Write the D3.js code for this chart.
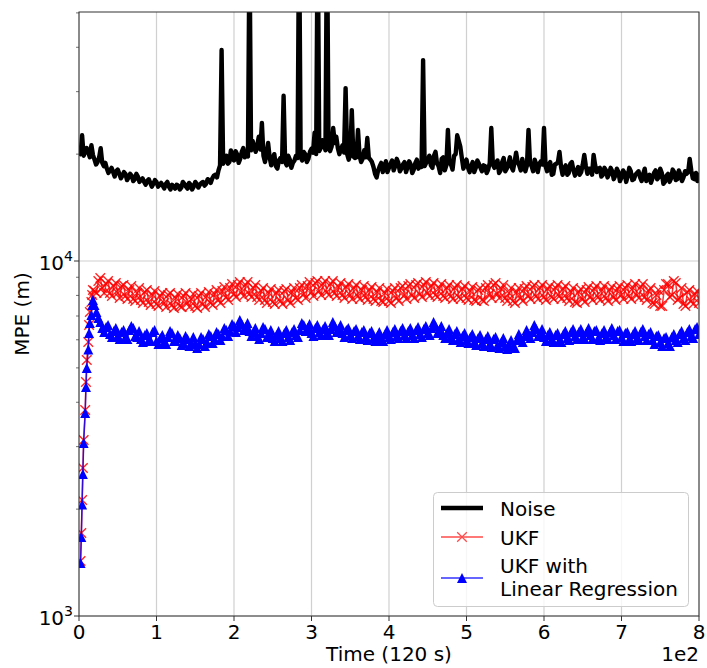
<!DOCTYPE html>
<html><head><meta charset="utf-8">
<script src="https://cdn.jsdelivr.net/npm/d3@7"></script>
<style>body{margin:0;background:#fff} text{font-family:"DejaVu Sans",sans-serif;fill:#000}</style>
</head><body><svg id="c" width="707" height="668"></svg>
<script>
// ---- data ----
// Noise: values at t = 0,4,8,...,800 and in-between samples at t = 2,6,10,...,798
const noiseValues = [
20500,22600,20300,20200,21200,19300,19000,20800,18500,18200,
18000,17800,17900,17600,17400,17600,17200,17400,17000,17300,
16900,16700,16800,16600,16500,16700,16400,16300,16500,16200,
16400,16000,16300,16100,16500,16000,16400,16200,16500,16400,
16700,16500,16900,17100,17500,18000,39300,19500,18800,20500,
19200,20000,19400,20800,20200,80000,21800,20300,22400,24500,
19000,21500,18600,20000,18200,19500,29200,18600,19300,18900,
19800,90000,19200,20000,19400,20700,23000,90000,20800,21500,
90000,20400,23700,22400,20000,21200,30700,19300,26600,19500,
23400,19000,20500,22200,19300,18400,17200,18500,17800,19100,
18300,19200,18500,18900,18200,19000,18400,18700,18100,19300,
18600,36800,18900,19800,18300,20300,18500,19400,18000,23400,
18700,19800,22600,21000,18200,19300,17800,19000,18300,18800,
17900,18500,18100,23700,18300,19200,18000,19500,18200,19600,
18000,20200,18600,19400,17900,23400,18500,19300,17800,19100,
23700,17900,19000,17600,18800,20300,17500,18600,17700,19000,
17400,18400,17800,19900,17600,18200,19900,17800,18300,17500,
18000,17600,17900,17400,17800,17200,17700,17300,17900,17000,
17700,17200,17600,16800,17500,17100,18000,17200,17700,16700,
17600,17100,17800,17000,17500,17200,17600,19400,17100,17700,
17500];
const noiseMidValues = [
20000,19800,20800,19600,19900,18700,19600,18900,18900,17700,
18300,17300,18100,17100,17800,16900,17600,16800,17600,16700,
17100,16400,17000,16200,16900,16200,16600,16000,16700,15900,
16200,16400,15900,16700,16200,16600,15900,16700,16100,16600,
16300,17000,16600,17400,17200,18600,18800,19800,19000,19400,
20400,18900,20300,19600,19700,20500,20900,21200,20600,19800,
20000,19600,19500,18500,19200,19000,19000,19800,18300,19200,
19500,19600,20300,19000,20300,20200,20000,20400,21900,20500,
20800,21000,21500,20800,20600,20200,20000,20000,19700,19600,
19800,19400,19600,19500,19000,17600,18000,18900,18300,17800,
18800,18000,19400,17900,18700,17800,19100,17700,18900,18200,
18400,18500,19200,18600,19800,18800,17700,19600,18600,18900,
18100,20000,21800,19500,18900,18300,18500,17800,19200,18300,
18600,17700,18900,18700,18900,17700,19000,17900,18800,18400,
19000,19000,18000,18400,18600,18800,17900,18700,18800,18700,
18500,18700,17500,18700,19000,18400,18300,17500,18800,18000,
17900,17500,18700,18500,18200,17500,18600,18200,17300,18300,
17200,18300,17000,18200,16800,18000,16700,18300,16900,17500,
17900,16800,18200,17300,16600,17700,17000,18200,16500,17400,
16700,18100,16900,18000,16800,17900,17800,18000,17000,16800];

// Filters: early times, then t = 20,25,...,800, plus in-between samples at t = 22.5,27.5,...,797.5
const earlyTimes = [2,3,4,5,6,8,9,10,12,13,14,16,17,18];
const ukfEarly = [1429,1713,2122,2612,3131,3804,4562,5262,5915,6603,7183,7666,8023,8286];
const lrEarly  = [1410,1670,2060,2510,3070,3730,4420,5000,5630,6270,6690,7050,7520,7760];
const ukfValues = [
8230,8786,8391,8614,8125,8502,8125,8502,7968,8284,
7815,8125,7764,8177,7664,8020,7566,7968,7615,8020,
7517,7866,7467,7968,7615,7815,7467,7968,7566,7968,
7615,8072,7764,8230,7917,8391,8072,8557,8177,8557,
8072,8391,7917,8230,7764,8125,7664,8125,7714,8230,
7764,8177,7866,8391,8072,8502,8177,8670,8230,8614,
8177,8614,8125,8447,8020,8447,8020,8391,7968,8284,
7917,8284,7815,8177,7714,8125,7714,8230,7866,8391,
8020,8502,8020,8557,8072,8557,8125,8502,8020,8391,
7968,8391,7968,8391,7917,8337,7866,8230,7764,8284,
7764,8391,8072,8557,8072,8337,7866,8125,7714,8177,
7866,8337,7968,8447,7968,8391,7917,8337,7917,8391,
7968,8337,7866,8177,7664,8177,7815,8284,7917,8337,
7917,8284,7866,8284,7917,8337,8020,8391,7968,8391,
8020,8447,7917,8230,7615,8020,7467,8284,8614,8020,
8670,7866,7566,8177,7714,8072,7615];
const ukfMidValues = [
8125,8959,8125,8786,7968,8670,7866,8557,7815,8502,
7714,8391,7615,8284,7517,8230,7467,8125,7418,8125,
7370,8072,7418,8125,7418,8072,7370,8125,7418,8177,
7517,8284,7615,8447,7764,8614,7917,8727,7968,8727,
7917,8557,7764,8391,7615,8337,7566,8284,7566,8337,
7615,8391,7764,8557,7866,8727,7968,8786,8020,8786,
8020,8786,7968,8670,7866,8614,7815,8557,7815,8502,
7764,8447,7714,8391,7664,8337,7615,8391,7714,8502,
7815,8614,7866,8670,7917,8727,7968,8670,7917,8614,
7866,8557,7815,8557,7815,8502,7764,8447,7714,8391,
7714,8557,7866,8670,7866,8557,7714,8391,7615,8391,
7714,8502,7815,8557,7815,8557,7764,8502,7815,8557,
7815,8502,7714,8391,7615,8337,7664,8447,7764,8502,
7764,8502,7714,8447,7764,8502,7815,8557,7815,8614,
7866,8614,7764,8391,7566,8284,7467,8614,7917,8786,
7764,8391,7467,8284,7566,8230];
const lrValues = [
7517,6910,6476,6518,6229,6351,6148,6310,6109,6392,
6476,6109,6031,6188,5992,6310,5953,6070,5915,6109,
6269,5953,6070,5877,6031,5839,5877,5839,6031,5915,
6148,6031,6229,6148,6392,6351,6560,6518,6647,6518,
6351,6310,6148,6269,6434,6229,6070,6188,6070,6269,
6109,6310,6188,6392,6603,6476,6269,6476,6310,6434,
6269,6434,6560,6434,6269,6392,6188,6351,6148,6310,
6109,6269,6070,6148,6031,6229,6109,6310,6148,6351,
6188,6351,6188,6392,6229,6434,6269,6476,6560,6392,
6188,6269,6109,6229,6031,6148,5992,6109,5915,6070,
5877,6031,5839,6031,5801,5915,5764,5801,5726,5992,
6070,6148,6229,6310,6434,6269,6109,6188,6031,6188,
5992,6229,6070,6310,6148,6310,6109,6310,6188,6351,
6070,6269,6109,6310,6188,6351,6109,6269,6031,6229,
6070,6310,6148,6229,5992,6148,5915,6070,5877,6109,
5992,6229,6070,6310,6148,6434,6229];
const lrMidValues = [
7183,6734,6310,6603,6109,6476,6031,6392,6031,6560,
6148,6351,5915,6269,5953,6392,5839,6188,5839,6351,
5953,6188,5801,6148,5764,6109,5689,6109,5764,6229,
5877,6310,5992,6476,6148,6647,6310,6822,6392,6690,
6148,6476,6031,6518,6109,6392,5953,6351,5953,6392,
5992,6434,6109,6690,6351,6647,6148,6603,6188,6560,
6188,6734,6310,6603,6109,6476,6070,6434,6031,6392,
5992,6351,5953,6310,5953,6392,6031,6434,6070,6476,
6070,6476,6070,6518,6109,6560,6188,6734,6269,6560,
6070,6434,5992,6351,5915,6269,5877,6229,5801,6188,
5764,6148,5726,6109,5689,6070,5652,5992,5689,6229,
5915,6392,6070,6603,6148,6434,5953,6310,5915,6269,
5915,6351,5992,6434,6031,6434,6031,6476,6031,6392,
5992,6392,6031,6476,6031,6392,5953,6310,5953,6351,
5992,6434,5992,6310,5839,6188,5764,6109,5764,6229,
5915,6351,5992,6434,6070,6518];

const xTicks = [0,100,200,300,400,500,600,700,800];
const xTickLabels = ["0","1","2","3","4","5","6","7","8"];
const xOffsetLabel = "1e2";
const yMajor = [1000, 10000];
const yMajorExp = ["3", "4"];
const yMinor = [2000,3000,4000,5000,6000,7000,8000,9000,20000,30000,40000,50000];
const seriesNames = ["Noise", "UKF", ["UKF with", "Linear Regression"]];
const xLabel = "Time (120 s)", yLabel = "MPE (m)";

// ---- build ----
const byT = (a, b) => a[0] - b[0];
const noise = noiseValues.map((v, i) => [i * 4, v])
  .concat(noiseMidValues.map((v, i) => [2 + i * 4, v])).sort(byT);
const mainTimes = d3.range(20, 801, 5);
const midTimes = d3.range(22.5, 800, 5);
const ukf = earlyTimes.map((t, i) => [t, ukfEarly[i]])
  .concat(mainTimes.map((t, i) => [t, ukfValues[i]]), midTimes.map((t, i) => [t, ukfMidValues[i]])).sort(byT);
const lr = earlyTimes.map((t, i) => [t, lrEarly[i]])
  .concat(mainTimes.map((t, i) => [t, lrValues[i]]), midTimes.map((t, i) => [t, lrMidValues[i]])).sort(byT);

const L = 79, R = 699, T = 12, B = 616;
const svg = d3.select("#c");
const x = d3.scaleLinear().domain([0, 800]).range([L, R]);
const y = d3.scaleLog().domain([1000, 50290]).range([B, T]);

svg.append("defs").append("clipPath").attr("id", "clip")
  .append("rect").attr("x", L).attr("y", T).attr("width", R - L).attr("height", B - T);

// grid
const grid = svg.append("g").attr("stroke", "#b0b0b0").attr("stroke-opacity", 0.6).attr("stroke-width", 1.2);
xTicks.forEach(t => grid.append("line").attr("x1", x(t)).attr("x2", x(t)).attr("y1", T).attr("y2", B));
yMajor.forEach(v => grid.append("line").attr("x1", L).attr("x2", R).attr("y1", y(v)).attr("y2", y(v)));

const plot = svg.append("g").attr("clip-path", "url(#clip)");
const line = d3.line().x(d => x(d[0])).y(d => y(d[1]));

plot.append("path").datum(noise).attr("d", line).attr("fill", "none")
  .attr("stroke", "#000").attr("stroke-width", 4.4).attr("stroke-linejoin", "round").attr("stroke-linecap", "round");

const xMark = "M-4.8,-4.8L4.8,4.8M-4.8,4.8L4.8,-4.8";
const triMark = "M0,-5L-5,5L5,5Z";

const gU = plot.append("g");
gU.append("path").datum(ukf).attr("d", line).attr("fill", "none").attr("stroke", "#ff0000").attr("stroke-opacity", 0.8).attr("stroke-width", 1.5);
gU.selectAll("path.m").data(ukf).join("path").attr("class", "m")
  .attr("transform", d => `translate(${x(d[0])},${y(d[1])})`).attr("d", xMark)
  .attr("stroke", "#ff0000").attr("stroke-opacity", 0.85).attr("stroke-width", 1.4).attr("fill", "none");

const gL = plot.append("g");
gL.append("path").datum(lr).attr("d", line).attr("fill", "none").attr("stroke", "#0000ff").attr("stroke-width", 1.5).attr("stroke-opacity", 0.8);
gL.selectAll("path.m").data(lr).join("path").attr("class", "m")
  .attr("transform", d => `translate(${x(d[0])},${y(d[1])})`).attr("d", triMark)
  .attr("fill", "#0000ff");

// spines
svg.append("rect").attr("x", L).attr("y", T).attr("width", R - L).attr("height", B - T)
  .attr("fill", "none").attr("stroke", "#333").attr("stroke-width", 1);

// x ticks
const ax = svg.append("g");
xTicks.forEach((t, i) => {
  ax.append("line").attr("x1", x(t)).attr("x2", x(t)).attr("y1", B).attr("y2", B + 5).attr("stroke", "#333");
  ax.append("text").attr("x", x(t)).attr("y", 639).attr("text-anchor", "middle").attr("font-size", 20).text(xTickLabels[i]);
});
ax.append("text").attr("x", R).attr("y", 661).attr("text-anchor", "end").attr("font-size", 20).text(xOffsetLabel);
ax.append("text").attr("x", (L + R) / 2).attr("y", 661).attr("text-anchor", "middle").attr("font-size", 20).text(xLabel);

// y ticks
yMajor.forEach((v, i) => {
  ax.append("line").attr("x1", L - 5).attr("x2", L).attr("y1", y(v)).attr("y2", y(v)).attr("stroke", "#333");
  const tx = ax.append("text").attr("x", 73).attr("y", y(v) + 9).attr("text-anchor", "end").attr("font-size", 20);
  tx.append("tspan").text("10");
  tx.append("tspan").attr("dy", -9).attr("font-size", 14).text(yMajorExp[i]);
});
yMinor.forEach(v => {
  ax.append("line").attr("x1", L - 3).attr("x2", L).attr("y1", y(v)).attr("y2", y(v)).attr("stroke", "#333").attr("stroke-width", 0.7);
});
ax.append("text").attr("transform", `translate(29,${(T + B) / 2}) rotate(-90)`).attr("text-anchor", "middle")
  .attr("font-size", 20).text(yLabel);

// legend
const lg = svg.append("g");
lg.append("rect").attr("x", 433.5).attr("y", 492.5).attr("width", 255).attr("height", 114).attr("rx", 4)
  .attr("fill", "#fff").attr("fill-opacity", 0.8).attr("stroke", "#cccccc");
lg.append("line").attr("x1", 441).attr("x2", 483).attr("y1", 508).attr("y2", 508).attr("stroke", "#000").attr("stroke-width", 4.4);
lg.append("text").attr("x", 500).attr("y", 516).attr("font-size", 20).text(seriesNames[0]);
const lu = lg.append("g").attr("opacity", 0.7);
lu.append("line").attr("x1", 441).attr("x2", 483).attr("y1", 537).attr("y2", 537).attr("stroke", "#ff0000").attr("stroke-width", 1.5);
lu.append("path").attr("transform", "translate(462,537)").attr("d", xMark).attr("stroke", "#ff0000").attr("stroke-width", 1.3);
lg.append("text").attr("x", 500).attr("y", 545).attr("font-size", 20).text(seriesNames[1]);
lg.append("line").attr("x1", 441).attr("x2", 483).attr("y1", 578).attr("y2", 578).attr("stroke", "#0000ff").attr("stroke-width", 1.5).attr("stroke-opacity", 0.8);
lg.append("path").attr("transform", "translate(462,578)").attr("d", triMark).attr("fill", "#0000ff");
lg.append("text").attr("x", 500).attr("y", 573).attr("font-size", 20).text(seriesNames[2][0]);
lg.append("text").attr("x", 500).attr("y", 596).attr("font-size", 20).text(seriesNames[2][1]);
</script></body></html>
